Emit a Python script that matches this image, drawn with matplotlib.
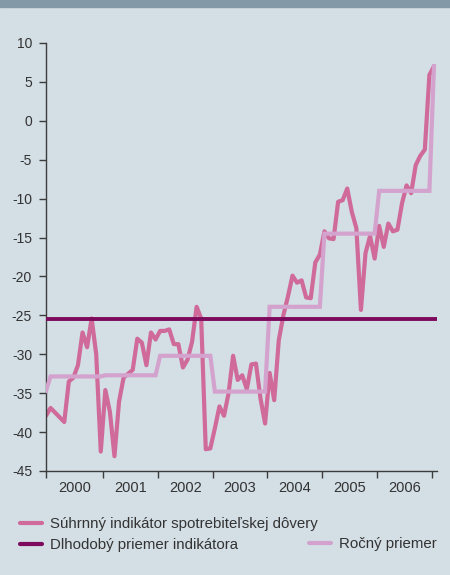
import matplotlib
matplotlib.use("Agg")
import matplotlib.pyplot as plt
from matplotlib.lines import Line2D
import numpy as np

# ---- data (monthly, Dec 1999 .. Jan 2007) ----
indicator = [-37.9, -36.9, -37.5, -38.1, -38.7, -33.5, -33.0, -31.4, -27.2, -29.1,
             -25.4, -30.0, -42.5, -34.6, -37.4, -43.1, -36.1, -33.0, -32.5, -32.0,
             -28.0, -28.5, -31.4, -27.2, -28.1, -27.0, -27.0, -26.8, -28.7, -28.7,
             -31.7, -30.7, -28.4, -23.9, -25.4, -42.2, -42.1, -39.5, -36.7, -37.9,
             -35.0, -30.2, -33.3, -32.7, -34.5, -31.3, -31.2, -35.7, -38.9, -32.4,
             -35.9, -28.2, -25.0, -22.6, -19.9, -20.8, -20.5, -22.7, -22.8, -18.2,
             -17.2, -14.2, -15.1, -15.2, -10.4, -10.2, -8.7, -11.7, -13.8, -24.3,
             -17.0, -14.8, -17.7, -13.5, -16.2, -13.2, -14.2, -14.0, -10.6, -8.3,
             -9.3, -5.7, -4.5, -3.7, 5.9, 7.0]
annual_levels = [-34.7, -32.85, -32.7, -30.2, -34.8, -23.9, -14.5, -9.0, 7.0]
annual_counts = [1, 12, 12, 12, 12, 12, 12, 12, 1]
long_term_mean = -25.5
years = ["2000", "2001", "2002", "2003", "2004", "2005", "2006"]
y_ticks = [10, 5, 0, -5, -10, -15, -20, -25, -30, -35, -40, -45]

labels = ["Súhrnný indikátor spotrebiteľskej dôvery",
          "Dlhodobý priemer indikátora",
          "Ročný priemer"]

annual = []
for lvl, c in zip(annual_levels, annual_counts):
    annual += [lvl] * c

x = np.arange(len(indicator))

# ---- styling ----
bg = "#D3DEE5"
c_main = "#CF6A9A"
c_long = "#7D0A5C"
c_ann = "#D3A3CE"
c_axis = "#3C3C3C"
c_text = "#333333"

plt.rcParams['font.family'] = ['Liberation Sans', 'DejaVu Sans']

fig = plt.figure(figsize=(4.5, 5.75), dpi=100, facecolor=bg)
# top bar
fig.patches.append(plt.Rectangle((0, 1 - 7/575), 1, 7/575, transform=fig.transFigure,
                                 color="#8499A8", zorder=0))

ax = fig.add_axes([46/450, 104/575, (436.7-46)/450, (471-43)/575])
ax.set_facecolor(bg)

l_main, = ax.plot(x, indicator, color=c_main, lw=3, solid_joinstyle='round',
                  solid_capstyle='round', zorder=2)
l_ann, = ax.plot(x, annual, color=c_ann, lw=3, solid_joinstyle='miter', zorder=3)
l_long = ax.axhline(long_term_mean, xmin=0, xmax=1, color=c_long, lw=2.8,
                    solid_capstyle='round', zorder=4)

ax.set_xlim(0, 85.6)
ax.set_ylim(-45, 10)

for s in ["top", "right"]:
    ax.spines[s].set_visible(False)
for s in ["left", "bottom"]:
    ax.spines[s].set_color(c_axis)
    ax.spines[s].set_linewidth(1.0)

ax.set_yticks(y_ticks)
ax.set_yticklabels([str(v) for v in y_ticks])
ax.tick_params(axis='y', direction='out', length=5, width=1, color=c_axis,
               labelcolor=c_text, labelsize=10, pad=5)

major = [0] + [0.5 + 12 * k for k in range(1, 8)]
ax.set_xticks(major)
ax.set_xticklabels([])
ax.set_xticks([6.25] + [6.5 + 12 * k for k in range(1, 7)], minor=True)
ax.set_xticklabels(years, minor=True)
ax.tick_params(axis='x', which='major', direction='out', length=5, width=1, color=c_axis)
ax.tick_params(axis='x', which='minor', length=0, labelcolor=c_text, labelsize=10.5, pad=7)

# ---- legends ----
h1 = Line2D([], [], color=c_main, lw=3, solid_capstyle='round')
h2 = Line2D([], [], color=c_long, lw=3, solid_capstyle='round')
h3 = Line2D([], [], color=c_ann, lw=3, solid_capstyle='round')
leg1 = fig.legend([h1, h2], labels[:2], loc='upper left',
                  bbox_to_anchor=(14/450, 1 - 511/575), frameon=False,
                  fontsize=10.8, handlelength=1.45, handletextpad=0.55,
                  labelspacing=0.5, labelcolor=c_text, borderaxespad=0)
leg2 = fig.legend([h3], labels[2:], loc='upper left',
                  bbox_to_anchor=(303/450, 1 - 531/575), frameon=False,
                  fontsize=10.8, handlelength=1.45, handletextpad=0.55,
                  labelcolor=c_text, borderaxespad=0)

fig.savefig("out.png", dpi=100, facecolor=bg)
